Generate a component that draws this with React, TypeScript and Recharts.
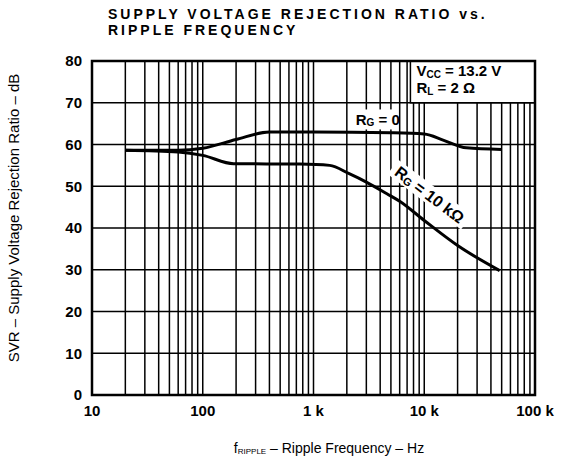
import { CartesianGrid, Line, LineChart, ReferenceArea, ReferenceDot, XAxis, YAxis } from "recharts"

// Rg = 0 curve
const rg0Freq = [20, 60, 100, 200, 400, 1000, 5000, 10000, 15000, 24000, 50000]
const rg0Svr = [58.6, 58.6, 59.1, 61.2, 63, 63, 62.8, 62.5, 61, 59.2, 58.8]

// Rg = 10 kOhm curve
const rg10kFreq = [20, 60, 100, 190, 750, 1400, 2100, 3000, 4600, 6000, 10000, 20000, 48000]
const rg10kSvr = [58.6, 58.2, 57.4, 55.4, 55.3, 55, 53, 51, 48.2, 46.4, 41.8, 35.8, 29.8]

const decadeTicks = [10, 100, 1000, 10000, 100000]
const decadeLabels = ["10", "100", "1 k", "10 k", "100 k"]
const yTicks = [0, 10, 20, 30, 40, 50, 60, 70, 80]

// log grid: 1..9 in each decade
const gridTicks: number[] = []
decadeTicks.slice(0, -1).forEach((d) => {
  for (let m = 1; m < 10; m++) gridTicks.push(d * m)
})
gridTicks.push(100000)

const rg0Data = rg0Freq.map((f, i) => ({ f, svr: rg0Svr[i] }))
const rg10kData = rg10kFreq.map((f, i) => ({ f, svr: rg10kSvr[i] }))

const font = "'Liberation Sans', Arial, sans-serif"

const fmtX = (v: number) => {
  const i = decadeTicks.indexOf(v)
  return i >= 0 ? decadeLabels[i] : ""
}

const Rg0Label = (props: any) => {
  const { cx, cy } = props
  return (
    <g>
      <rect x={cx - 20} y={cy - 10} width={40} height={20} fill="#fff" />
      <text x={cx} y={cy} textAnchor="middle" dominantBaseline="central" fontSize={15} fontFamily={font} fontWeight="bold">
        R<tspan fontSize={10} dy={3}>G</tspan>
        <tspan dy={-3}> = 0</tspan>
      </text>
    </g>
  )
}

const Rg10kLabel = (props: any) => {
  const { cx, cy } = props
  return (
    <g transform={`rotate(37 ${cx} ${cy})`}>
      <rect x={cx - 46} y={cy - 9} width={92} height={18} fill="#fff" />
      <text x={cx} y={cy} textAnchor="middle" dominantBaseline="central" fontSize={16} fontFamily={font} fontWeight="bold">
        R<tspan fontSize={11} dy={3}>G</tspan>
        <tspan dy={-3}> = 10 kΩ</tspan>
      </text>
    </g>
  )
}

const CondLabel = (props: any) => {
  const { cx, cy } = props
  return (
    <g fontFamily={font} fontWeight="bold" fontSize={15}>
      <text x={cx + 6} y={cy + 15}>
        V<tspan fontSize={10} dy={2}>CC</tspan>
        <tspan dy={-2}> = 13.2 V</tspan>
      </text>
      <text x={cx + 6} y={cy + 32}>
        R<tspan fontSize={10} dy={2}>L</tspan>
        <tspan dy={-2}> = 2 Ω</tspan>
      </text>
    </g>
  )
}

const titleStyle = {
  position: "absolute" as const,
  left: 108,
  fontFamily: font,
  fontWeight: "bold" as const,
  fontSize: 14,
  lineHeight: "16px",
  letterSpacing: 3,
  color: "#000",
  whiteSpace: "nowrap" as const,
  zIndex: 2,
}

export default function App() {
  return (
    <div style={{ position: "absolute", left: 0, top: 0, width: 576, height: 463, background: "#fff" }}>
      <div style={{ ...titleStyle, top: 6 }}>SUPPLY VOLTAGE REJECTION RATIO vs.</div>
      <div style={{ ...titleStyle, top: 22 }}>RIPPLE FREQUENCY</div>
      <LineChart width={576} height={463} margin={{ top: 61, right: 41, left: 0, bottom: 0 }}>
        <CartesianGrid stroke="#000" strokeWidth={1.5} />
        <XAxis
          dataKey="f"
          type="number"
          scale="log"
          domain={[10, 100000]}
          allowDataOverflow
          ticks={gridTicks}
          interval={0}
          tickFormatter={fmtX}
          tickLine={false}
          axisLine={false}
          tickSize={0}
          tickMargin={10}
          height={68}
          tick={{ fill: "#000", fontSize: 15, fontFamily: font, fontWeight: "bold" }}
          label={() => (
            <text x={329} y={448} textAnchor="middle" dominantBaseline="central" fontSize={14} fontFamily={font}>
              f<tspan fontSize={8} dy={3}>RIPPLE</tspan>
              <tspan dy={-3}> – Ripple Frequency – Hz</tspan>
            </text>
          )}
        />
        <YAxis
          type="number"
          domain={[0, 80]}
          ticks={yTicks}
          interval={0}
          width={92}
          tickLine={false}
          axisLine={false}
          tickSize={0}
          tickMargin={10}
          tick={{ fill: "#000", fontSize: 15, fontFamily: font, fontWeight: "bold" }}
          label={() => (
            <text
              x={13}
              y={218}
              transform="rotate(-90 13 218)"
              textAnchor="middle"
              dominantBaseline="central"
              fontSize={15}
              fontFamily={font}
            >
              SVR – Supply Voltage Rejection Ratio – dB
            </text>
          )}
        />
        <ReferenceArea x1={7500} x2={100000} y1={70} y2={80} fill="#fff" fillOpacity={1} stroke="#000" strokeWidth={1.5} />
        <ReferenceArea x1={10} x2={100000} y1={0} y2={80} fill="none" stroke="#000" strokeWidth={2.5} />
        <ReferenceDot x={7500} y={80} r={0} shape={CondLabel} />
        <ReferenceDot x={3800} y={66} r={0} shape={Rg0Label} />
        <ReferenceDot x={11200} y={48} r={0} shape={Rg10kLabel} />
        <Line
          data={rg0Data}
          dataKey="svr"
          type="monotone"
          stroke="#000"
          strokeWidth={3}
          dot={false}
          isAnimationActive={false}
        />
        <Line
          data={rg10kData}
          dataKey="svr"
          type="monotone"
          stroke="#000"
          strokeWidth={3}
          dot={false}
          isAnimationActive={false}
        />
      </LineChart>
    </div>
  )
}
